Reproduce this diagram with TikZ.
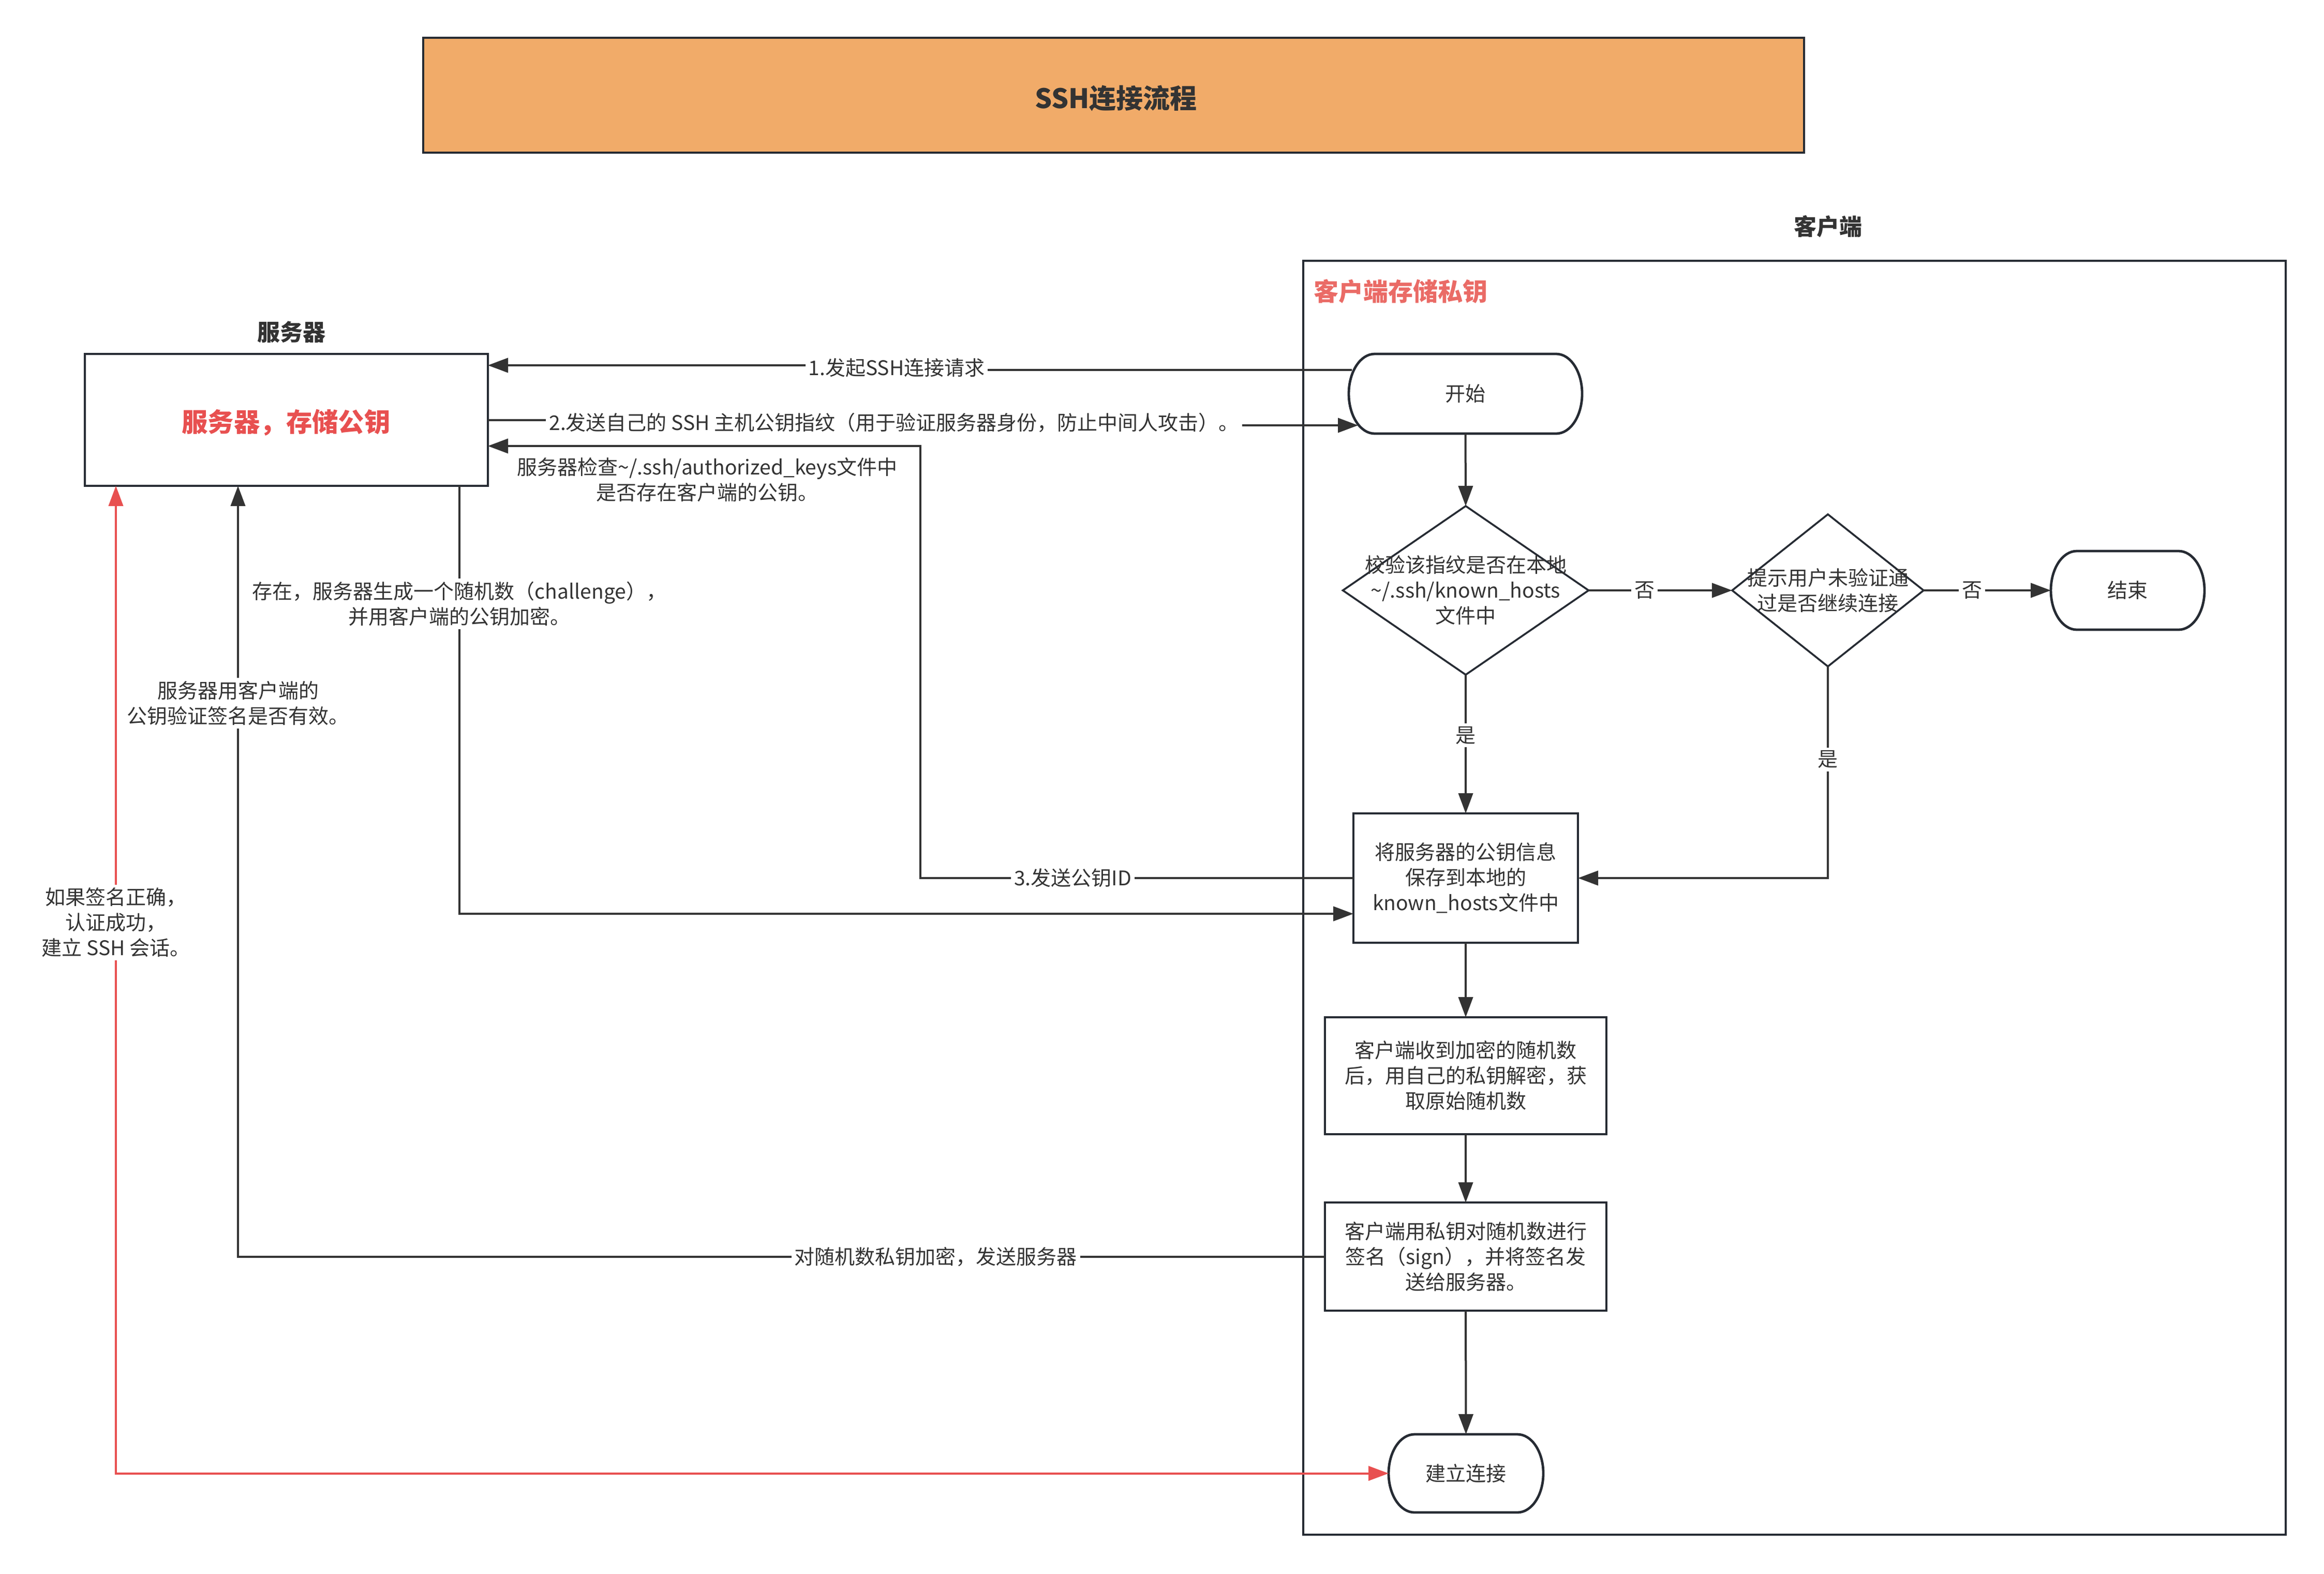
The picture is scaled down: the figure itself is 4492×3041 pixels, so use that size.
\documentclass[tikz,border=0pt]{standalone}
\usepackage{fontspec}
\setmainfont{Noto Sans CJK SC}
\usetikzlibrary{arrows.meta,shapes.geometric,calc}
\definecolor{bordc}{HTML}{262B33}
\definecolor{linec}{HTML}{333333}
\definecolor{redc}{HTML}{E85050}
\definecolor{lightredc}{HTML}{EA6B66}
\definecolor{orangec}{HTML}{F1AB69}
\newcommand\termborder[1]{%
  \path ($(#1.north west)+(12.5pt,0)$) coordinate (#1-tl)
        ($(#1.north east)+(-12.5pt,0)$) coordinate (#1-tr)
        ($(#1.south east)+(-12.5pt,0)$) coordinate (#1-br)
        ($(#1.south west)+(12.5pt,0)$) coordinate (#1-bl);
  \draw[draw=bordc, line width=1.2pt]
    (#1-tl) -- (#1-tr)
    .. controls ($(#1-tr)!0.552!(#1.north east)$) and ($(#1.east)!0.552!(#1.north east)$) .. (#1.east)
    .. controls ($(#1.east)!0.552!(#1.south east)$) and ($(#1-br)!0.552!(#1.south east)$) .. (#1-br)
    -- (#1-bl)
    .. controls ($(#1-bl)!0.552!(#1.south west)$) and ($(#1.west)!0.552!(#1.south west)$) .. (#1.west)
    .. controls ($(#1.west)!0.552!(#1.north west)$) and ($(#1-tl)!0.552!(#1.north west)$) .. (#1-tl)
    -- cycle;}
\begin{document}
\begin{tikzpicture}[x=0.25pt,y=-0.25pt,
  base/.style={font=\fontsize{9.75}{12.25}\selectfont, text=linec},
  box/.style={base, draw=bordc, line width=1.2pt, fill=white, inner sep=0pt, outer sep=0pt, align=center},
  dia/.style={diamond, draw=bordc, line width=0.9pt, fill=white, inner sep=0pt, outer sep=0pt},
  termbox/.style={base, inner sep=0pt, outer sep=0pt, align=center},
  conn/.style={draw=linec, line width=1pt, -{Triangle[length=9.75pt,width=7pt]}},
  redconn/.style={draw=redc, line width=1pt, {Triangle[length=9.75pt,width=7pt]}-{Triangle[length=9.75pt,width=7pt]}},
  lab/.style={base, fill=white, inner sep=1.5pt, align=center},
  heading/.style={font=\fontsize{11}{13}\selectfont\bfseries, text=linec}
]
\useasboundingbox (0,0) rectangle (4492,3041);

% title
\node[draw=bordc, line width=1.2pt, fill=orangec, minimum width=667.25pt, minimum height=55.5pt,
      inner sep=0pt, text=linec] (title) at (2152.5,184) {};
\node[font=\fontsize{13}{16}\selectfont\bfseries, text=linec] (titletext) at (2157,190) {SSH连接流程};

% headings
\node[heading] (hserver) at (563,642) {服务器};
\node[heading] (hclient) at (3533,438) {客户端};

% client container
\node[draw=bordc, line width=1.1pt, minimum width=474.75pt, minimum height=615.5pt, inner sep=0pt] (client) at (3468.5,1735) {};
\node[anchor=west, inner sep=0pt, font=\fontsize{12}{14}\selectfont\bfseries, text=lightredc] (clientlab) at (2539,563) {客户端存储私钥};

% server box
\node[box, minimum width=194.75pt, minimum height=63.75pt] (server) at (553.5,811.5) {};
\node[font=\fontsize{12.6}{15}\selectfont\bfseries, text=redc] (servertext) at (553,817) {服务器，存储公钥};

% terminators
\node[termbox, minimum width=112.75pt, minimum height=38.5pt] (start) at (2832.5,761) {开始};
\termborder{start}
\node[termbox, minimum width=74.25pt, minimum height=38pt] (stop) at (4112.5,1141) {结束};
\termborder{stop}
\node[termbox, minimum width=74.75pt, minimum height=37.75pt] (conn) at (2833.5,2847.5) {建立连接};
\termborder{conn}

% diamonds
\node[dia, minimum width=118.75pt, minimum height=81.5pt] (d1) at (2833,1141) {};
\node[base, align=center] (d1t) at (d1) {校验该指纹是否在本地\\\textasciitilde/.ssh/known\_hosts\\文件中};
\node[dia, minimum width=92.5pt, minimum height=73.5pt] (d2) at (3533,1141) {};
\node[base, align=center] (d2t) at (d2) {提示用户未验证通\\过是否继续连接};

% process boxes
\node[box, minimum width=108.5pt, minimum height=62.5pt] (b1) at (2833,1697) {将服务器的公钥信息\\保存到本地的\\known\_hosts文件中};
\node[box, minimum width=136pt, minimum height=56.5pt] (b2) at (2833,2079) {客户端收到加密的随机数\\后，用自己的私钥解密，获\\取原始随机数};
\node[box, minimum width=136pt, minimum height=52.25pt] (b3) at (2833,2428.5) {客户端用私钥对随机数进行\\签名（sign），并将签名发\\送给服务器。};

% flow inside client
\draw[conn] (start.south) -- (d1.north);
\draw[conn] (d1.east) -- node[lab, pos=0.39] {否} (d2.west);
\draw[conn] (d2.east) -- node[lab, pos=0.38] {否} (stop.west);
\draw[conn] (d1.south) -- node[lab, pos=0.437] {是} (b1.north);
\draw[conn] (d2.south) |- node[lab, pos=0.22] {是} (b1.east);
\draw[conn] (b1.south) -- (b2.north);
\draw[conn] (b2.south) -- (b3.north);
\draw[conn] (b3.south) -- (conn.north);

% messages between server and client
\draw[conn] ($(start.west |- 0,715)+(1.5pt,0)$) -- (1733,715) -- node[lab] {1.发起SSH连接请求} (1733,706) -- (server.east |- 0,706);
\draw[conn] (server.east |- 0,812) -- (1728,812) -- node[lab] {2.发送自己的 SSH 主机公钥指纹（用于验证服务器身份，防止中间人攻击）。} (1728,822) -- ($(start.west |- 0,822)+(4.5pt,0)$);
\draw[conn] (b1.west) -- node[lab, pos=0.648] {3.发送公钥ID} (1779,1697) -- (1779,862) -- (server.east |- 0,862);
\node[base, align=center] (checklab) at (1367,927) {服务器检查\textasciitilde/.ssh/authorized\_keys文件中\\是否存在客户端的公钥。};
\draw[conn] (server.south -| 888,0) -- node[lab, pos=0.276] {存在，服务器生成一个随机数（challenge），\\并用客户端的公钥加密。} (888,1766) -- (b1.west |- 0,1766);
\draw[conn] (b3.west) -| node[lab, pos=0.179] {对随机数私钥加密，发送服务器} node[lab, pos=0.859] {服务器用客户端的\\公钥验证签名是否有效。} (server.south -| 460,0);
\draw[redconn] (server.south -| 224,0) |- node[lab, pos=0.221] {如果签名正确，\\认证成功，\\建立 SSH 会话。} (conn.west);
\end{tikzpicture}
\end{document}
